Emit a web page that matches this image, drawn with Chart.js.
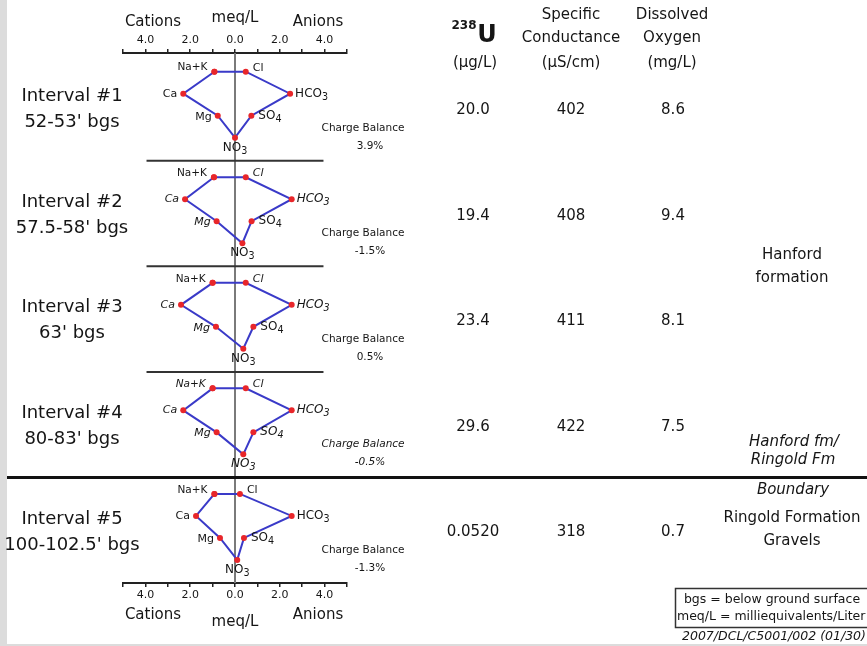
<!DOCTYPE html>
<html>
<head>
<meta charset="utf-8">
<style>
  html, body { margin: 0; padding: 0; background: #fff; }
  canvas { display: block; }
</style>
<script src="https://cdn.jsdelivr.net/npm/chart.js@4"></script>
</head>
<body>
<canvas id="stiffChart" width="867" height="646"></canvas>
<script>
// Intervalos amostrados
const intervals = ['Interval #1', 'Interval #2', 'Interval #3', 'Interval #4', 'Interval #5'];
const depths = ["52-53' bgs", "57.5-58' bgs", "63' bgs", "80-83' bgs", "100-102.5' bgs"];

// Cátions (meq/L)
const sodiumPotassium = [0.92, 0.94, 1.00, 1.00, 0.92];
const calcium = [2.31, 2.23, 2.41, 2.31, 1.74];
const magnesium = [0.77, 0.82, 0.85, 0.82, 0.67];

// Ânions (meq/L)
const chloride = [0.48, 0.48, 0.48, 0.48, 0.22];
const bicarbonate = [2.46, 2.53, 2.53, 2.53, 2.53];
const sulfate = [0.73, 0.74, 0.82, 0.82, 0.40];
const nitrate = [0.00, 0.33, 0.37, 0.37, 0.10];

// Outros parâmetros
const uranium = ['20.0', '19.4', '23.4', '29.6', '0.0520'];
const conductance = ['402', '408', '411', '422', '318'];
const oxygen = ['8.6', '9.4', '8.1', '7.5', '0.7'];
const chargeBalance = ['3.9%', '-1.5%', '0.5%', '-0.5%', '-1.3%'];

// Eixo meq/L
const axisMin = -5;
const axisMax = 5;

const FONT = '"DejaVu Sans", sans-serif';
const panelStep = 4.8;

// Montando os datasets (um polígono de Stiff por intervalo)
const datasets = intervals.map((name, i) => {
    const base = i * panelStep;
    return {
        label: name,
        data: [
            { x: -sodiumPotassium[i], y: base },
            { x: chloride[i], y: base },
            { x: bicarbonate[i], y: base + 1 },
            { x: sulfate[i], y: base + 2 },
            { x: nitrate[i], y: base + 3 },
            { x: -magnesium[i], y: base + 2 },
            { x: -calcium[i], y: base + 1 },
            { x: -sodiumPotassium[i], y: base }
        ],
        showLine: true,
        borderColor: '#3a3ac8',
        borderWidth: 2,
        pointRadius: 3,
        pointBackgroundColor: '#e8262a',
        pointBorderWidth: 0,
        pointHoverRadius: 3
    };
});

// Texto com subscrito (HCO3, SO4, NO3)
function chem(ctx, txt, x, y, align, size, italic) {
    const m = txt.match(/^(.*?)(\d*)$/);
    const main = m[1], sub = m[2];
    const style = italic ? 'italic ' : '';
    ctx.font = style + size + 'px ' + FONT;
    const w1 = ctx.measureText(main).width;
    ctx.font = style + (size * 0.8) + 'px ' + FONT;
    const w2 = sub ? ctx.measureText(sub).width : 0;
    let left = x;
    if (align === 'right') left = x - w1 - w2;
    if (align === 'center') left = x - (w1 + w2) / 2;
    ctx.textAlign = 'left';
    ctx.font = style + size + 'px ' + FONT;
    ctx.fillText(main, left, y);
    if (sub) {
        ctx.font = style + (size * 0.8) + 'px ' + FONT;
        ctx.fillText(sub, left + w1, y + size * 0.3);
    }
}

function text(ctx, t, x, y, size, opts = {}) {
    ctx.font = (opts.italic ? 'italic ' : '') + (opts.bold ? 'bold ' : '') + size + 'px ' + FONT;
    ctx.textAlign = opts.align || 'center';
    ctx.fillText(t, x, y);
}

const decorPlugin = {
    id: 'stiffDecor',
    beforeDraw(chart) {
        const ctx = chart.ctx;
        ctx.save();
        ctx.fillStyle = '#fff';
        ctx.fillRect(0, 0, chart.width, chart.height);
        ctx.fillStyle = '#dcdcdc';
        ctx.fillRect(0, 0, 7, chart.height);
        ctx.fillRect(0, chart.height - 2, chart.width, 2);
        ctx.restore();
    },
    beforeDatasetsDraw(chart) {
        const ctx = chart.ctx;
        const xs = chart.scales.x, ys = chart.scales.y;
        const area = chart.chartArea;
        ctx.save();
        // linha central
        ctx.strokeStyle = '#7a7a7a';
        ctx.lineWidth = 2;
        ctx.beginPath();
        ctx.moveTo(xs.getPixelForValue(0), area.top);
        ctx.lineTo(xs.getPixelForValue(0), area.bottom);
        ctx.stroke();
        // separadores entre intervalos
        for (let k = 1; k < intervals.length; k++) {
            const yy = ys.getPixelForValue(k * panelStep - 0.75);
            ctx.beginPath();
            if (k === intervals.length - 1) {
                ctx.strokeStyle = '#111';
                ctx.lineWidth = 3;
                ctx.moveTo(7, yy);
                ctx.lineTo(chart.width, yy);
            } else {
                ctx.strokeStyle = '#333';
                ctx.lineWidth = 2;
                ctx.moveTo(xs.getPixelForValue(-3.95), yy);
                ctx.lineTo(xs.getPixelForValue(3.95), yy);
            }
            ctx.stroke();
        }
        ctx.restore();
    },
    afterDraw(chart) {
        const ctx = chart.ctx;
        const xs = chart.scales.x, ys = chart.scales.y;
        const x0 = xs.getPixelForValue(0);
        ctx.save();
        ctx.fillStyle = '#151515';
        ctx.textBaseline = 'middle';

        // títulos dos eixos
        text(ctx, 'Cations', 153, 22, 15);
        text(ctx, 'meq/L', x0, 18, 15);
        text(ctx, 'Anions', 318, 22, 15);
        text(ctx, 'Cations', 153, 615, 15);
        text(ctx, 'meq/L', x0, 622, 15);
        text(ctx, 'Anions', 318, 615, 15);

        // cabeçalhos
        text(ctx, '238', 464, 26, 12, { bold: true });
        text(ctx, 'U', 487, 36, 24, { bold: true });
        text(ctx, '(\u00b5g/L)', 475, 63, 15);
        text(ctx, 'Specific', 571, 15, 15);
        text(ctx, 'Conductance', 571, 38, 15);
        text(ctx, '(\u00b5S/cm)', 571, 63, 15);
        text(ctx, 'Dissolved', 672, 15, 15);
        text(ctx, 'Oxygen', 672, 38, 15);
        text(ctx, '(mg/L)', 672, 63, 15);

        intervals.forEach((name, i) => {
            const base = i * panelStep;
            const pts = chart.getDatasetMeta(i).data;
            const it = i === 3;
            const it2 = i === 1 || i === 2 || it;
            // rótulos dos íons
            chem(ctx, 'Na+K', pts[0].x - 7, pts[0].y - 4, 'right', 10.5, it);
            chem(ctx, 'Cl', pts[1].x + 7, pts[1].y - 4, 'left', 11, it2);
            chem(ctx, 'HCO3', pts[2].x + 5, pts[2].y, 'left', 12, it2);
            chem(ctx, 'SO4', pts[3].x + 7, pts[3].y, 'left', 12, it);
            chem(ctx, 'NO3', pts[4].x, pts[4].y + 10, 'center', 12, it);
            chem(ctx, 'Mg', pts[5].x - 6, pts[5].y + 1, 'right', 11, it2);
            chem(ctx, 'Ca', pts[6].x - 6, pts[6].y, 'right', 11, it2);

            // rótulos dos intervalos
            const yCa = ys.getPixelForValue(base + 1);
            text(ctx, name, 72, yCa + 3, 18);
            text(ctx, depths[i], 72, yCa + 29, 18);

            // balanço de carga
            const yCb = ys.getPixelForValue(base + 2.55);
            text(ctx, 'Charge Balance', 363, yCb, 10.5, { italic: it });
            text(ctx, chargeBalance[i], 370, yCb + 18, 10.5, { italic: it });

            // valores
            const yVal = ys.getPixelForValue(base + 1.75);
            text(ctx, uranium[i], 473, yVal, 15);
            text(ctx, conductance[i], 571, yVal, 15);
            text(ctx, oxygen[i], 673, yVal, 15);
        });

        // formações
        text(ctx, 'Hanford', 792, 255, 15);
        text(ctx, 'formation', 792, 278, 15);
        text(ctx, 'Hanford fm/', 794, 442, 15, { italic: true });
        text(ctx, 'Ringold Fm', 793, 460, 15, { italic: true });
        text(ctx, 'Boundary', 793, 490, 15, { italic: true });
        text(ctx, 'Ringold Formation', 792, 518, 15);
        text(ctx, 'Gravels', 792, 541, 15);

        // legenda
        ctx.strokeStyle = '#333';
        ctx.lineWidth = 1.5;
        ctx.strokeRect(675.5, 588.5, 200, 39);
        text(ctx, 'bgs = below ground surface', 772, 600, 12.5);
        text(ctx, 'meq/L = milliequivalents/Liter', 677, 617, 12.5, { align: 'left' });
        text(ctx, '2007/DCL/C5001/002 (01/30)', 682, 637, 12.5, { italic: true, align: 'left' });
        ctx.restore();
    }
};

function axisConfig(position, height) {
    return {
        type: 'linear',
        position: position,
        min: axisMin,
        max: axisMax,
        ticks: {
            stepSize: 1,
            autoSkip: false,
            maxRotation: 0,
            color: '#151515',
            padding: 2,
            font: { family: FONT, size: 11 },
            callback: (v) => (v % 2 === 0 ? Math.abs(v).toFixed(1) : '')
        },
        grid: { drawOnChartArea: false, drawTicks: true, tickLength: 4, color: '#222', lineWidth: 1.5 },
        border: { display: true, color: '#222', width: 2 },
        afterFit: (scale) => { scale.height = height; }
    };
}

const config = {
    type: 'scatter',
    data: { datasets },
    options: {
        responsive: false,
        animation: false,
        layout: { padding: { left: 123, right: 520, top: 0, bottom: 0 } },
        scales: {
            xTop: axisConfig('top', 53),
            x: axisConfig('bottom', 63),
            y: { type: 'linear', display: false, min: -0.85, max: 23.25, reverse: true }
        },
        plugins: {
            legend: { display: false },
            tooltip: { enabled: false }
        }
    },
    plugins: [decorPlugin]
};

const ctx = document.getElementById('stiffChart').getContext('2d');
const stiffChart = new Chart(ctx, config);
</script>
</body>
</html>
